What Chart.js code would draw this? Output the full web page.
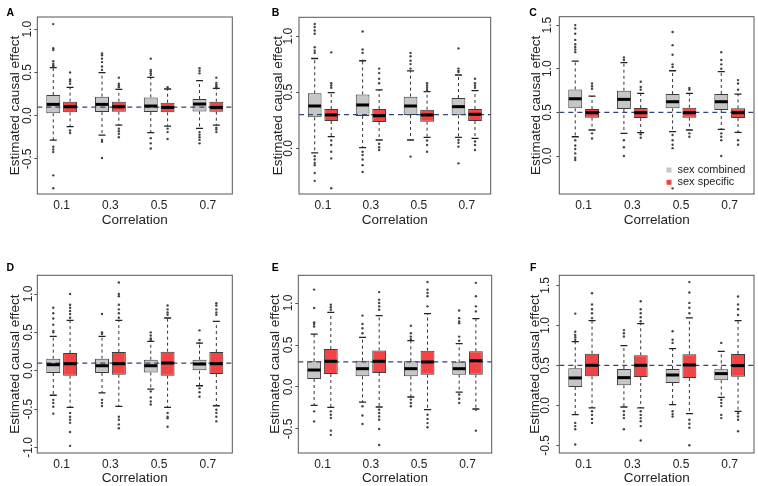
<!DOCTYPE html>
<html>
<head>
<meta charset="utf-8">
<script src="https://cdn.jsdelivr.net/npm/chart.js@4.4.1/dist/chart.umd.min.js"></script>
<style>
  body { margin: 0; background: #fff; width: 758px; height: 486px; position: relative; overflow: hidden; }
  .panel { position: absolute; }
</style>
</head>
<body>
<div id="wrap"></div>
<script>
// categories and series
const categories = ['0.1', '0.3', '0.5', '0.7'];
const groups = ['sex combined', 'sex specific'];
const panelLetters = ['A', 'B', 'C', 'D', 'E', 'F'];
const trueEffect = [0.1, 0.3, 0.5, 0.1, 0.3, 0.5];
const yTicks = [
  [-0.5, 0, 0.5, 1.0],
  [0, 0.5, 1.0],
  [0, 0.5, 1.0, 1.5],
  [-1.0, -0.5, 0, 0.5, 1.0],
  [-0.5, 0, 0.5, 1.0],
  [-0.5, 0, 0.5, 1.0, 1.5]
];

// box stats: [lower whisker, q1, median, q3, upper whisker]
const aCombined = [[-0.282, 0.027, 0.131, 0.239, 0.556], [-0.224, 0.042, 0.131, 0.22, 0.498], [-0.197, 0.042, 0.112, 0.212, 0.444], [-0.147, 0.05, 0.135, 0.193, 0.405]];
const aSpecific = [[-0.127, 0.039, 0.104, 0.162, 0.328], [-0.108, 0.046, 0.104, 0.162, 0.305], [-0.12, 0.039, 0.096, 0.15, 0.309], [-0.108, 0.046, 0.096, 0.162, 0.316]];
const bCombined = [[-0.04, 0.276, 0.377, 0.49, 0.80], [0.006, 0.288, 0.386, 0.48, 0.78], [0.074, 0.297, 0.377, 0.46, 0.69], [0.098, 0.294, 0.371, 0.448, 0.653]];
const bSpecific = [[0.104, 0.243, 0.297, 0.35, 0.496], [0.074, 0.234, 0.29, 0.35, 0.52], [0.098, 0.237, 0.297, 0.344, 0.505], [0.089, 0.243, 0.303, 0.35, 0.514]];
const cCombined = [[0.221, 0.546, 0.656, 0.763, 1.088], [0.26, 0.538, 0.649, 0.748, 1.069], [0.279, 0.546, 0.622, 0.71, 0.977], [0.305, 0.527, 0.622, 0.71, 0.966]];
const cSpecific = [[0.298, 0.439, 0.496, 0.538, 0.687], [0.267, 0.435, 0.496, 0.55, 0.718], [0.298, 0.439, 0.496, 0.553, 0.718], [0.271, 0.435, 0.496, 0.546, 0.71]];
const dCombined = [[-0.32, -0.03, 0.078, 0.157, 0.448], [-0.29, -0.03, 0.065, 0.157, 0.448], [-0.239, -0.022, 0.065, 0.143, 0.383], [-0.196, 0.0, 0.087, 0.143, 0.36]];
const dSpecific = [[-0.478, -0.065, 0.091, 0.23, 0.657], [-0.465, -0.052, 0.091, 0.243, 0.657], [-0.478, -0.065, 0.1, 0.248, 0.687], [-0.457, -0.043, 0.091, 0.243, 0.643]];
const eCombined = [[-0.218, 0.095, 0.202, 0.306, 0.63], [-0.18, 0.127, 0.218, 0.313, 0.59], [-0.119, 0.127, 0.218, 0.306, 0.552], [-0.06, 0.147, 0.218, 0.294, 0.516]];
const eSpecific = [[-0.242, 0.155, 0.306, 0.452, 0.889], [-0.238, 0.167, 0.306, 0.436, 0.85], [-0.27, 0.147, 0.298, 0.433, 0.873], [-0.262, 0.147, 0.313, 0.425, 0.813]];
const fCombined = [[-0.117, 0.229, 0.342, 0.463, 0.796], [-0.021, 0.25, 0.346, 0.454, 0.746], [0.008, 0.279, 0.379, 0.454, 0.708], [0.1, 0.313, 0.396, 0.45, 0.675]];
const fSpecific = [[-0.033, 0.363, 0.5, 0.646, 1.058], [-0.033, 0.354, 0.5, 0.625, 1.02], [-0.104, 0.342, 0.504, 0.638, 1.092], [-0.075, 0.358, 0.496, 0.642, 1.058]];

// outliers per box
const aCombinedOut = [[1.06, 0.78, 0.76, 0.63, 0.6, 0.58, 0.57, -0.36, -0.39, -0.42, -0.69, -0.84], [0.72, 0.7, 0.66, 0.62, 0.57, 0.53, -0.28, -0.3, -0.49], [0.66, 0.53, 0.51, 0.49, 0.47, -0.26, -0.32, -0.38], [0.55, 0.52, 0.49, -0.19, -0.22, -0.25, -0.28, -0.32]];
const aSpecificOut = [[0.5, 0.42, 0.4, 0.37, -0.17, -0.2], [0.44, 0.37, 0.35, 0.33, -0.15, -0.18, -0.21, -0.25], [0.33, -0.15, -0.19, -0.27], [0.44, 0.38, 0.36, 0.34, 0.33, -0.14, -0.16, -0.19]];
const bCombinedOut = [[1.107, 1.08, 1.05, 1.02, 0.9, 0.87, 0.85, -0.07, -0.1, -0.13, -0.15, -0.22, -0.29], [1.04, 0.88, 0.85, 0.78, -0.03, -0.06, -0.1, -0.15, -0.21], [0.85, 0.82, 0.78, 0.75, 0.71, -0.074], [0.89, 0.71, 0.69, 0.68, 0.074, 0.05, 0.015, -0.134]];
const bSpecificOut = [[0.855, 0.58, 0.56, 0.54, 0.07, 0.03, -0.03, -0.09, -0.356], [0.71, 0.67, 0.62, 0.58, 0.04, 0.01, -0.015], [0.58, 0.56, 0.54, 0.52, 0.51, 0.07, 0.03, -0.03], [0.62, 0.58, 0.56, 0.54, 0.06, 0.03, -0.015]];
const cCombinedOut = [[1.5, 1.46, 1.4, 1.33, 1.28, 1.25, 1.22, 1.19, 0.18, 0.12, 0.08, 0.03, -0.02, -0.046], [1.13, 1.1, 0.18, 0.1, 0], [1.42, 1.27, 1.16, 1.05, 1.02, 0.24, 0.18, 0.13, 0.09, -0.37], [1.19, 1.1, 1.05, 1.0, 0.26, 0.22, 0.18, 0]];
const cSpecificOut = [[0.83, 0.8, 0.77, 0.26, 0.2], [0.85, 0.79, 0.76, 0.25, 0.21], [0.78, 0.76, 0.26, 0.22], [0.87, 0.83, 0.76, 0.18, 0.13]];
const dCombinedOut = [[0.82, 0.75, 0.68, 0.6, 0.52, 0.5, -0.38, -0.42, -0.47, -0.56], [0.74, 0.5, 0.48, -0.38, -0.42, -0.46], [0.5, 0.46, 0.42, 0.4, -0.27, -0.35, -0.4, -0.44], [0.526, 0.4, 0.36, -0.23, -0.28, -0.34]];
const dSpecificOut = [[1.0, 0.86, 0.82, 0.78, 0.74, 0.69, -0.55, -0.6, -0.64, -0.68, -0.8, -0.98], [1.15, 1.0, 0.97, 0.86, 0.8, 0.75, 0.69, -0.6, -0.64, -0.7, -0.75], [0.85, 0.8, 0.76, 0.73, -0.55, -0.6, -0.62, -0.73], [0.88, 0.85, 0.8, 0.76, 0.73, -0.51, -0.55, -0.6, -0.66]];
const eCombinedOut = [[1.16, 0.94, 0.77, 0.75, 0.72, -0.29, -0.41], [0.85, 0.75, 0.7, 0.64, -0.23, -0.34, -0.44], [0.73, 0.64, 0.6, 0.57, -0.15, -0.19, -0.23], [0.91, 0.82, 0.78, 0.76, 0.6, 0.55, -0.09, -0.14, -0.19]];
const eSpecificOut = [[0.98, 0.95, 0.92, -0.29, -0.33, -0.37, -0.52, -0.57], [1.13, 1.04, 1.0, 0.96, 0.92, -0.27, -0.31, -0.35, -0.39, -0.5, -0.69], [1.25, 1.16, 1.12, 1.08, 0.96, -0.33, -0.38, -0.43, -0.48], [1.24, 1.08, 0.96, 0.9, -0.27, -0.52]];
const fCombinedOut = [[1.146, 0.92, 0.88, 0.85, 0.82, -0.22, -0.26, -0.3, -0.49], [0.94, 0.9, 0.86, -0.075, -0.12, -0.16, -0.3], [0.925, 0.82, 0.78, -0.075, -0.11, -0.14], [0.78, 0.07, 0.03, -0.01, -0.12, -0.16]];
const fSpecificOut = [[1.4, 1.26, 1.2, 1.15, 1.09, -0.075, -0.12, -0.17, -0.22], [1.3, 1.2, 1.15, 1.1, 1.05, -0.075, -0.12, -0.16, -0.2, -0.26, -0.44], [1.54, 1.41, 1.28, 1.22, 1.15, -0.18, -0.23, -0.28, -0.5], [1.36, 1.26, 1.2, 1.13, -0.1, -0.14, -0.18, -0.325]];

const panels = [
  { combined: aCombined, specific: aSpecific, outs: [aCombinedOut, aSpecificOut] },
  { combined: bCombined, specific: bSpecific, outs: [bCombinedOut, bSpecificOut] },
  { combined: cCombined, specific: cSpecific, outs: [cCombinedOut, cSpecificOut] },
  { combined: dCombined, specific: dSpecific, outs: [dCombinedOut, dSpecificOut] },
  { combined: eCombined, specific: eSpecific, outs: [eCombinedOut, eSpecificOut] },
  { combined: fCombined, specific: fSpecific, outs: [fCombinedOut, fSpecificOut] }
];

// layout of each panel on the page (canvas box + plot box)
const frames = [
  { x: 0,   y: 0,   w: 250, h: 228, l: 37.3,  t: 17,    r: 232.3, b: 194, yMin: -0.906, yMax: 1.142, titleX: 15.7, tickOff: 9.3,  letter: [6.5, 15.5] },
  { x: 250, y: 0,   w: 250, h: 228, l: 299,   t: 17.3,  r: 490.7, b: 194, yMin: -0.407, yMax: 1.167, titleX: 28,   tickOff: 10,   letter: [21.7, 15.5] },
  { x: 500, y: 0,   w: 258, h: 228, l: 559.3, t: 16.7,  r: 754,   b: 194, yMin: -0.435, yMax: 1.596, titleX: 36.7, tickOff: 11.5, letter: [29.3, 15.5] },
  { x: 0,   y: 243, w: 250, h: 243, l: 37.3,  t: 275.3, r: 232.3, b: 453, yMin: -1.073, yMax: 1.244, titleX: 15.7, tickOff: 9,    letter: [6.5, 28.3] },
  { x: 250, y: 243, w: 250, h: 243, l: 298.3, t: 275.3, r: 491.7, b: 453, yMin: -0.786, yMax: 1.33,  titleX: 25.7, tickOff: 10,   letter: [21.7, 28] },
  { x: 500, y: 243, w: 258, h: 243, l: 559.3, t: 275.3, r: 754,   b: 453, yMin: -0.596, yMax: 1.625, titleX: 35,   tickOff: 14,   letter: [30, 28.3] }
];

const FONT = '"Liberation Sans", Arial, Helvetica, sans-serif';
const fills = ['#c6c6c6', '#f24444'];

const boxPlugin = {
  id: 'boxdraw',
  beforeDatasetsDraw(chart, args, opts) {
    const ctx = chart.ctx;
    const y = chart.scales.y;
    ctx.save();
    ctx.strokeStyle = '#333';
    ctx.lineWidth = 1;
    ctx.setLineDash([3, 3]);
    opts.boxes.forEach((set, di) => {
      chart.getDatasetMeta(di).data.forEach((el, j) => {
        const s = set[j];
        ctx.beginPath();
        ctx.moveTo(el.x, y.getPixelForValue(s[3]));
        ctx.lineTo(el.x, y.getPixelForValue(s[4]));
        ctx.moveTo(el.x, y.getPixelForValue(s[1]));
        ctx.lineTo(el.x, y.getPixelForValue(s[0]));
        ctx.stroke();
      });
    });
    ctx.restore();
  },
  afterDatasetsDraw(chart, args, opts) {
    const ctx = chart.ctx;
    const y = chart.scales.y;
    const area = chart.chartArea;
    ctx.save();

    // reference line at the true effect
    const ry = y.getPixelForValue(opts.ref);
    ctx.strokeStyle = '#36427a';
    ctx.lineWidth = 1.2;
    ctx.setLineDash([5, 4]);
    ctx.beginPath();
    ctx.moveTo(area.left, ry);
    ctx.lineTo(area.right, ry);
    ctx.stroke();
    ctx.setLineDash([]);

    opts.boxes.forEach((set, di) => {
      chart.getDatasetMeta(di).data.forEach((el, j) => {
        const s = set[j];
        const half = el.width / 2;
        // caps
        ctx.strokeStyle = '#222';
        ctx.lineWidth = 1.3;
        ctx.beginPath();
        [s[0], s[4]].forEach(v => {
          const py = y.getPixelForValue(v);
          ctx.moveTo(el.x - 3.5, py);
          ctx.lineTo(el.x + 3.5, py);
        });
        ctx.stroke();
        // median
        ctx.strokeStyle = '#000';
        ctx.lineWidth = 3;
        const my = y.getPixelForValue(s[2]);
        ctx.beginPath();
        ctx.moveTo(el.x - half + 0.5, my);
        ctx.lineTo(el.x + half - 0.5, my);
        ctx.stroke();
        // outliers
        ctx.fillStyle = '#444';
        opts.outs[di][j].forEach(v => {
          ctx.beginPath();
          ctx.arc(el.x, y.getPixelForValue(v), 1.2, 0, Math.PI * 2);
          ctx.fill();
        });
      });
    });

    // frame
    ctx.strokeStyle = '#555';
    ctx.lineWidth = 1;
    ctx.strokeRect(area.left, area.top, area.right - area.left, area.bottom - area.top);

    // rotated y tick labels
    ctx.fillStyle = '#222';
    ctx.font = '12px ' + FONT;
    ctx.textAlign = 'center';
    ctx.textBaseline = 'middle';
    opts.ticks.forEach(v => {
      ctx.save();
      ctx.translate(area.left - opts.tickOff, y.getPixelForValue(v));
      ctx.rotate(-Math.PI / 2);
      ctx.fillText(v.toFixed(1), 0, 0);
      ctx.restore();
    });

    // panel letter
    ctx.font = 'bold 10.5px ' + FONT;
    ctx.textAlign = 'left';
    ctx.textBaseline = 'alphabetic';
    ctx.fillStyle = '#000';
    ctx.fillText(opts.letter, opts.letterPos[0], opts.letterPos[1]);

    // legend (panel C only)
    if (opts.legend) {
      ctx.font = '11px ' + FONT;
      ctx.textBaseline = 'middle';
      groups.forEach((g, k) => {
        const ly = 170 + k * 12.3;
        ctx.fillStyle = fills[k];
        ctx.fillRect(166.5, ly - 2.5, 5, 5);
        ctx.fillStyle = '#222';
        ctx.fillText(g, 177.5, ly);
      });
    }
    ctx.restore();
  }
};

const wrap = document.getElementById('wrap');

panels.forEach((p, i) => {
  const f = frames[i];
  const div = document.createElement('div');
  div.className = 'panel';
  div.style.left = f.x + 'px';
  div.style.top = f.y + 'px';
  const canvas = document.createElement('canvas');
  canvas.width = f.w;
  canvas.height = f.h;
  canvas.style.width = f.w + 'px';
  canvas.style.height = f.h + 'px';
  div.appendChild(canvas);
  wrap.appendChild(div);

  const yw = f.l - f.x;
  const xh = f.y + f.h - f.b;

  new Chart(canvas.getContext('2d'), {
    type: 'bar',
    data: {
      labels: categories,
      datasets: [
        {
          label: groups[0],
          data: p.combined.map(s => [s[1], s[3]]),
          backgroundColor: fills[0],
          borderColor: '#3c3c3c',
          borderWidth: 1,
          borderSkipped: false,
          barPercentage: 0.83,
          categoryPercentage: 0.69
        },
        {
          label: groups[1],
          data: p.specific.map(s => [s[1], s[3]]),
          backgroundColor: fills[1],
          borderColor: '#3c3c3c',
          borderWidth: 1,
          borderSkipped: false,
          barPercentage: 0.83,
          categoryPercentage: 0.69
        }
      ]
    },
    options: {
      responsive: false,
      animation: false,
      devicePixelRatio: 1,
      layout: {
        padding: { top: f.t - f.y, right: f.x + f.w - f.r, left: 0, bottom: 0 }
      },
      plugins: {
        legend: { display: false },
        tooltip: { enabled: false },
        boxdraw: {
          boxes: [p.combined, p.specific],
          outs: p.outs,
          ref: trueEffect[i],
          ticks: yTicks[i],
          tickOff: f.tickOff,
          letter: panelLetters[i],
          letterPos: f.letter,
          legend: i === 2
        }
      },
      scales: {
        x: {
          type: 'category',
          grid: { display: false, drawTicks: false },
          border: { display: false },
          ticks: { color: '#222', font: { family: FONT, size: 12 }, padding: 4, maxRotation: 0 },
          title: {
            display: true,
            text: 'Correlation',
            color: '#222',
            font: { family: FONT, size: 13.5 },
            padding: { top: 0, bottom: 0 }
          },
          afterFit: s => { s.height = xh; }
        },
        y: {
          min: f.yMin,
          max: f.yMax,
          grid: { display: true, drawOnChartArea: false, drawTicks: true, tickLength: 3, color: '#555' },
          border: { display: false },
          ticks: { display: false },
          afterBuildTicks: s => { s.ticks = yTicks[i].map(v => ({ value: v })); },
          title: {
            display: true,
            text: 'Estimated causal effect',
            color: '#222',
            font: { family: FONT, size: 13.5 },
            padding: { top: f.titleX - 8.1, bottom: 0 }
          },
          afterFit: s => { s.width = yw; }
        }
      }
    },
    plugins: [boxPlugin]
  });
});
</script>
</body>
</html>
